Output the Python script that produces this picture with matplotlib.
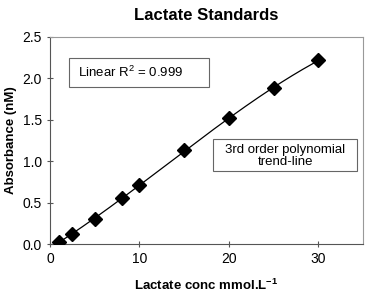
import numpy as np
import matplotlib
matplotlib.use("Agg")
import matplotlib.pyplot as plt
from matplotlib.patches import Rectangle

plt.rcParams['font.family'] = ['Liberation Sans', 'DejaVu Sans']
plt.rcParams['mathtext.fontset'] = 'custom'
plt.rcParams['mathtext.rm'] = 'Liberation Sans'
plt.rcParams['mathtext.bf'] = 'Liberation Sans:bold'

conc = [1, 2.5, 5, 8, 10, 15, 20, 25, 30]
absorb = [0.03, 0.12, 0.30, 0.55, 0.71, 1.13, 1.52, 1.88, 2.22]
xticks = [0, 10, 20, 30]
yticks = [0.0, 0.5, 1.0, 1.5, 2.0, 2.5]

fig = plt.figure(figsize=(3.67, 2.98), dpi=100)
ax = fig.add_axes([50/367, 54/298, 313/367, 207/298])

coef = np.polyfit(conc, absorb, 3)
xs = np.linspace(min(conc), max(conc), 200)
ax.plot(xs, np.polyval(coef, xs), color='black', lw=0.9, zorder=2)
ax.plot(conc, absorb, linestyle='none', marker='D', markersize=7.5, color='black', zorder=3)

ax.set_xlim(0, 35)
ax.set_ylim(0, 2.5)
ax.set_xticks(xticks)
ax.set_yticks(yticks)
ax.set_yticklabels([f"{v:.1f}" for v in yticks])
ax.tick_params(labelsize=10, length=4, width=0.8, direction='inout', pad=4, color='#555555')
for s in ['top', 'right']:
    ax.spines[s].set_color('#999999')
    ax.spines[s].set_linewidth(0.8)
for s in ['left', 'bottom']:
    ax.spines[s].set_linewidth(0.8)
    ax.spines[s].set_color('#555555')

ax.set_title("Lactate Standards", fontsize=12, fontweight='bold', pad=12)
ax.set_xlabel(r"Lactate conc mmol.L$^{\mathbf{-1}}$", fontsize=9.5, fontweight='bold', labelpad=8)
ax.set_ylabel("Absorbance (nM)", fontsize=9.5, fontweight='bold', labelpad=4)

ax.add_patch(Rectangle((2.1, 1.896), 15.7, 0.35, fc='white', ec='#666666', lw=0.8, zorder=4))
ax.text(3.1, 2.075, r"Linear R$^{\mathrm{2}}$ = 0.999", fontsize=9.5, va='center', ha='left', zorder=5)

ax.add_patch(Rectangle((18.2, 0.882), 16.1, 0.386, fc='white', ec='#666666', lw=0.8, zorder=4))
ax.text(26.3, 1.06, "3rd order polynomial\ntrend-line", fontsize=9.5,
        va='center', ha='center', linespacing=1.05, zorder=5)

fig.savefig("out.png", dpi=100)
